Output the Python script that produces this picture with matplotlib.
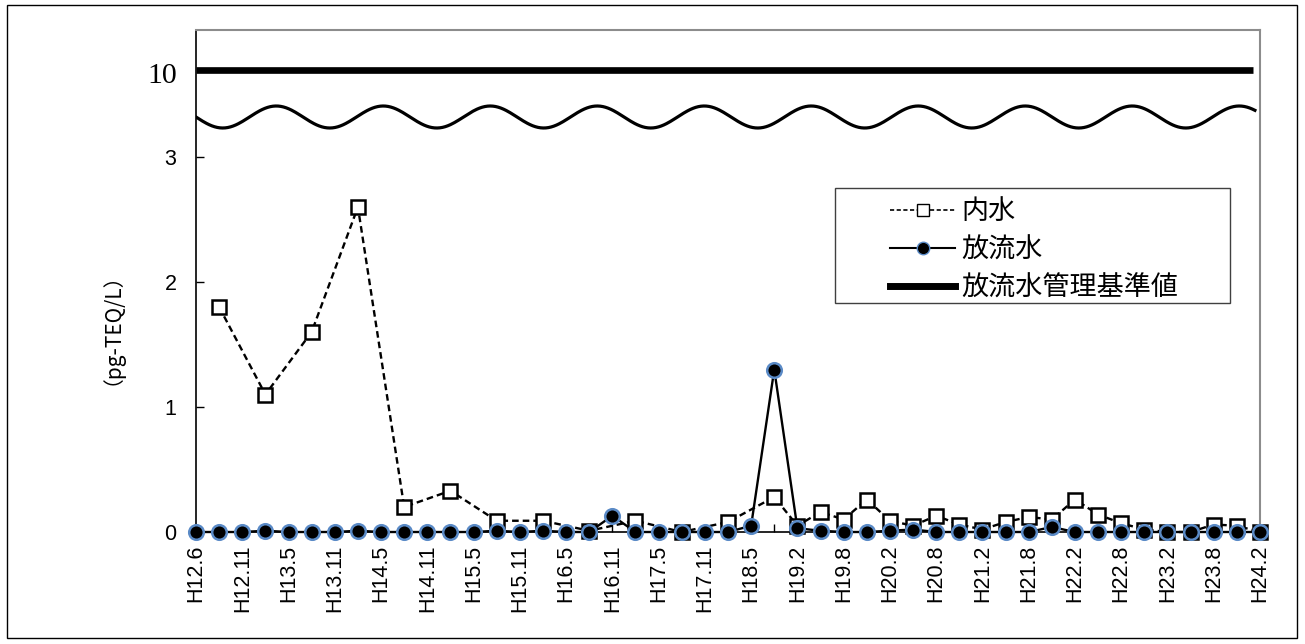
import numpy as np
import matplotlib
matplotlib.use("Agg")
import matplotlib.pyplot as plt
from matplotlib.lines import Line2D
from matplotlib.patches import Rectangle

# ---------------- data ----------------
tick_labels = ["H12.6", "", "H12.11", "", "H13.5", "", "H13.11", "", "H14.5", "", "H14.11", "",
               "H15.5", "", "H15.11", "", "H16.5", "", "H16.11", "", "H17.5", "", "H17.11", "",
               "H18.5", "", "H19.2", "", "H19.8", "", "H20.2", "", "H20.8", "", "H21.2", "",
               "H21.8", "", "H22.2", "", "H22.8", "", "H23.2", "", "H23.8", "", "H24.2"]
nan = np.nan
naisui = [nan, 1.8, nan, 1.1, nan, 1.6, nan, 2.6, nan, 0.2, nan, 0.33, nan, 0.09, nan, 0.09,
          nan, 0.01, nan, 0.09, nan, 0.0, nan, 0.08, nan, 0.28, 0.05, 0.16, 0.10, 0.26, 0.09, 0.05,
          0.13, 0.06, 0.02, 0.08, 0.12, 0.10, 0.26, 0.14, 0.07, 0.02, 0.0, 0.0, 0.06, 0.05, 0.0]
houryu = [0.0, 0.0, 0.0, 0.01, 0.0, 0.0, 0.0, 0.01, 0.0, 0.0, 0.0, 0.0, 0.0, 0.01, 0.0, 0.01,
          0.0, 0.0, 0.13, 0.0, 0.0, 0.0, 0.0, 0.0, 0.05, 1.3, 0.03, 0.01, 0.0, 0.0, 0.01, 0.02,
          0.0, 0.0, 0.0, 0.0, 0.0, 0.04, 0.0, 0.0, 0.0, 0.0, 0.0, 0.0, 0.0, 0.0, 0.0]
standard_value = 10
y_ticks = [0, 1, 2, 3]
series_names = ["内水", "放流水", "放流水管理基準値"]

# broken axis mapping: 0..3 linear, above 3 compressed
def ymap(v):
    v = np.asarray(v, dtype=float)
    return np.where(v <= 3, v, 3 + (v - 3) * (0.696 / 7.0))

W, H = 1305, 644
fig = plt.figure(figsize=(W / 100, H / 100), dpi=100)
ax = fig.add_axes([196 / W, (H - 532) / H, (1260 - 196) / W, (532 - 30) / H])

x = np.arange(len(tick_labels))
n_arr = np.array(naisui, dtype=float)
mask = ~np.isnan(n_arr)

ax.plot(x[mask], n_arr[mask], color="black", lw=1.7, dashes=(2.8, 1.7),
        marker="s", markersize=10.5, markerfacecolor="white", markeredgecolor="black",
        markeredgewidth=1.8, clip_on=False, zorder=3)
ax.plot(x, houryu, color="black", lw=1.7, marker="o", markersize=10.5,
        markerfacecolor="black", markeredgecolor="#5A8AC6", markeredgewidth=1.8,
        clip_on=False, zorder=4)

# management standard line (thick) at mapped 10
sv = float(ymap(standard_value))
ax.hlines(sv, 0, len(tick_labels) - 1.3, colors="black", lw=4.8, zorder=2)

# wave break mark
xw = np.linspace(0, len(tick_labels) - 1.22, 800)
ax.plot(xw, 3.32 - 0.088 * np.sin(2 * np.pi * xw / 4.626), color="black", lw=2.3, zorder=2)

ax.set_xlim(0, len(tick_labels) - 1)
ax.set_ylim(0, 4.016)

ax.set_xticks(x)
ax.set_xticklabels(tick_labels, rotation=90, fontsize=15.5, family="Liberation Sans")
ax.tick_params(axis="x", direction="in", length=6, width=1, pad=9)
ax.set_yticks(y_ticks)
ax.set_yticklabels([str(t) for t in y_ticks], fontsize=15.5, family="Liberation Sans")
ax.tick_params(axis="y", direction="in", length=6, width=1, pad=14)

ax.text(-0.82, sv - 0.045, str(standard_value), transform=ax.transData, ha="right", va="center",
        fontsize=21.5, family="Liberation Serif")

for s in ["left", "bottom"]:
    ax.spines[s].set_color("black")
    ax.spines[s].set_linewidth(1.2)
for s in ["top", "right"]:
    ax.spines[s].set_color("#8c8c8c")
    ax.spines[s].set_linewidth(1.5)

fig.text(101 / W, 1 - 318 / H, "（pg-TEQ/L）", rotation=90, ha="center", va="center",
         fontsize=15, family=["Noto Sans CJK JP"])

# legend
handles = [
    Line2D([], [], color="black", lw=1.2, dashes=(2.5, 1.5), marker="s", markersize=8,
           markerfacecolor="white", markeredgecolor="black", markeredgewidth=1.0),
    Line2D([], [], color="black", lw=1.5, marker="o", markersize=9,
           markerfacecolor="black", markeredgecolor="#5A8AC6", markeredgewidth=1.0),
    Line2D([], [], color="black", lw=5),
]
leg = ax.legend(handles, series_names, loc="upper left",
                bbox_to_anchor=(890 / W, 1 - 198 / H), bbox_transform=fig.transFigure,
                frameon=False, borderaxespad=0, borderpad=0, handlelength=2.4,
                handletextpad=0.25, labelspacing=0.42,
                prop={"family": ["Noto Sans CJK JP"], "size": 19.5})
fig.add_artist(Rectangle((835 / W, 1 - 303 / H), (1230 - 835) / W, (303 - 188) / H,
                         transform=fig.transFigure, fill=False, edgecolor="#404040", lw=1.0))

# outer border
fig.add_artist(Rectangle((7 / W, 1 - 638 / H), (1297 - 7) / W, (638 - 5) / H,
                         transform=fig.transFigure, fill=False, edgecolor="black", lw=1.0))

fig.savefig("out.png", dpi=100)
